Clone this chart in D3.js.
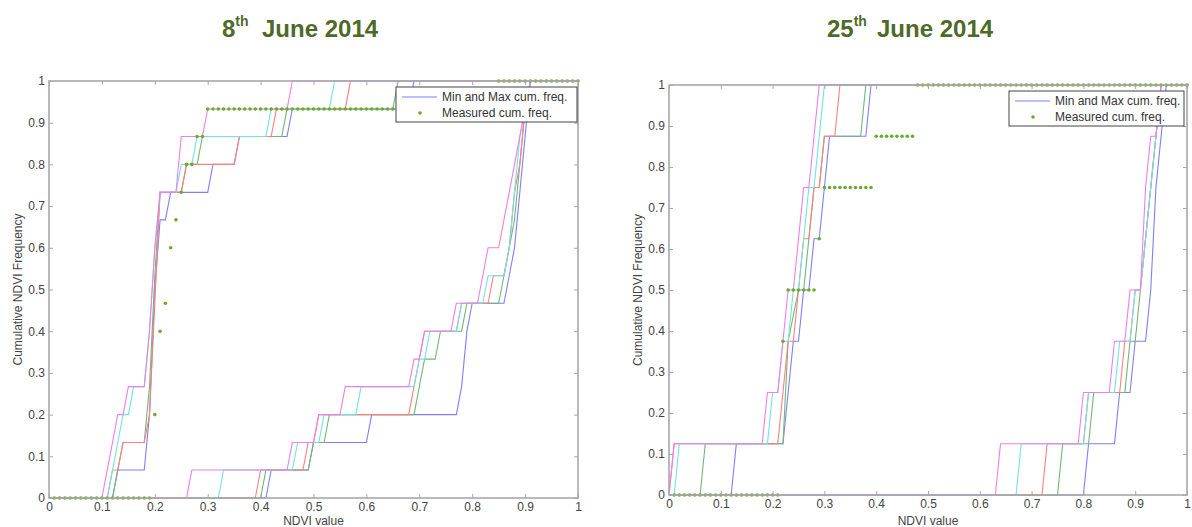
<!DOCTYPE html>
<html>
<head>
<meta charset="utf-8">
<script src="https://cdn.jsdelivr.net/npm/d3@7"></script>
<style>
  body { margin: 0; background: #fff; }
  svg text { font-family: "Liberation Sans", Arial, sans-serif; }
</style>
</head>
<body>
<svg id="chart" width="1192" height="527"></svg>
<script>
// tick values and labels (both axes)
const ticks = [0, 0.1, 0.2, 0.3, 0.4, 0.5, 0.6, 0.7, 0.8, 0.9, 1];
const tickLabels = ["0", "0.1", "0.2", "0.3", "0.4", "0.5", "0.6", "0.7", "0.8", "0.9", "1"];
const legendLabels = ["Min and Max cum. freq.", "Measured cum. freq."];

// measured cumulative frequency, NDVI sampled every 0.01 (0.01 .. 1.00)
const sampleX = d3.range(1, 101).map(k => k / 100);
const measured8 = [
  0, 0, 0, 0, 0, 0, 0, 0, 0, 0,
  0, 0, 0, 0, 0, 0, 0, 0, 0, 0.2,
  0.4, 0.467, 0.6, 0.667, 0.733, 0.8, 0.8, 0.867, 0.867, 0.933,
  0.933, 0.933, 0.933, 0.933, 0.933, 0.933, 0.933, 0.933, 0.933, 0.933,
  0.933, 0.933, 0.933, 0.933, 0.933, 0.933, 0.933, 0.933, 0.933, 0.933,
  0.933, 0.933, 0.933, 0.933, 0.933, 0.933, 0.933, 0.933, 0.933, 0.933,
  0.933, 0.933, 0.933, 0.933, 0.933, 0.933, 0.933, 0.933, 0.933, 0.933,
  0.933, 0.933, 0.933, 0.933, 0.933, 0.933, 0.933, 0.933, 0.933, 0.933,
  0.933, 0.933, 0.933, 0.933, 1, 1, 1, 1, 1, 1,
  1, 1, 1, 1, 1, 1, 1, 1, 1, 1
];
const measured25 = [
  0, 0, 0, 0, 0, 0, 0, 0, 0, 0,
  0, 0, 0, 0, 0, 0, 0, 0, 0, 0,
  0, 0.375, 0.5, 0.5, 0.5, 0.5, 0.5, 0.5, 0.625, 0.75,
  0.75, 0.75, 0.75, 0.75, 0.75, 0.75, 0.75, 0.75, 0.75, 0.875,
  0.875, 0.875, 0.875, 0.875, 0.875, 0.875, 0.875, 1, 1, 1,
  1, 1, 1, 1, 1, 1, 1, 1, 1, 1,
  1, 1, 1, 1, 1, 1, 1, 1, 1, 1,
  1, 1, 1, 1, 1, 1, 1, 1, 1, 1,
  1, 1, 1, 1, 1, 1, 1, 1, 1, 1,
  1, 1, 1, 1, 1, 1, 1, 1, 1, 1
];

// min / max cumulative curves, [NDVI, freq] vertices, order: blue, green, red, cyan, magenta
const june8Low = [
  [[0,0],[0.12,0],[0.13,0.067],[0.18,0.067],[0.19,0.2],[0.20,0.5],[0.21,0.667],[0.22,0.667],[0.23,0.733],[0.30,0.733],[0.31,0.8],[0.35,0.8],[0.36,0.867],[0.45,0.867],[0.46,0.933],[0.68,0.933],[0.69,1],[1,1]],
  [[0,0],[0.12,0],[0.13,0.067],[0.14,0.133],[0.18,0.133],[0.19,0.267],[0.20,0.533],[0.21,0.733],[0.25,0.733],[0.26,0.8],[0.28,0.8],[0.29,0.867],[0.44,0.867],[0.45,0.933],[0.65,0.933],[0.66,1],[1,1]],
  [[0,0],[0.11,0],[0.12,0.067],[0.13,0.067],[0.14,0.133],[0.18,0.133],[0.19,0.2],[0.20,0.467],[0.21,0.733],[0.25,0.733],[0.26,0.8],[0.35,0.8],[0.36,0.867],[0.42,0.867],[0.43,0.933],[0.56,0.933],[0.57,1],[1,1]],
  [[0,0],[0.11,0],[0.12,0.067],[0.13,0.133],[0.14,0.2],[0.15,0.2],[0.16,0.267],[0.18,0.267],[0.19,0.4],[0.20,0.6],[0.21,0.733],[0.24,0.733],[0.25,0.8],[0.27,0.8],[0.28,0.867],[0.41,0.867],[0.42,0.933],[0.53,0.933],[0.54,1],[1,1]],
  [[0,0],[0.10,0],[0.11,0.067],[0.12,0.133],[0.13,0.2],[0.14,0.2],[0.15,0.267],[0.18,0.267],[0.19,0.4],[0.20,0.6],[0.21,0.733],[0.24,0.733],[0.25,0.867],[0.29,0.867],[0.30,0.933],[0.45,0.933],[0.46,1],[1,1]]
];
const june8High = [
  [[0,0],[0.41,0],[0.42,0.067],[0.49,0.067],[0.50,0.133],[0.60,0.133],[0.61,0.2],[0.77,0.2],[0.78,0.267],[0.79,0.4],[0.80,0.467],[0.86,0.467],[0.87,0.533],[0.88,0.6],[0.89,0.733],[0.90,0.867],[0.91,1],[1,1]],
  [[0,0],[0.40,0],[0.41,0.067],[0.49,0.067],[0.50,0.133],[0.52,0.133],[0.53,0.2],[0.69,0.2],[0.70,0.267],[0.71,0.333],[0.73,0.333],[0.74,0.4],[0.78,0.4],[0.79,0.467],[0.85,0.467],[0.86,0.533],[0.87,0.6],[0.88,0.667],[0.89,0.8],[0.90,0.933],[0.91,1],[1,1]],
  [[0,0],[0.39,0],[0.40,0.067],[0.48,0.067],[0.49,0.133],[0.50,0.133],[0.51,0.2],[0.68,0.2],[0.69,0.267],[0.70,0.333],[0.71,0.4],[0.77,0.4],[0.78,0.467],[0.83,0.467],[0.84,0.533],[0.86,0.533],[0.87,0.6],[0.88,0.733],[0.89,0.8],[0.90,0.933],[0.91,1],[1,1]],
  [[0,0],[0.32,0],[0.33,0.067],[0.46,0.067],[0.47,0.133],[0.51,0.133],[0.52,0.2],[0.58,0.2],[0.59,0.267],[0.69,0.267],[0.70,0.333],[0.71,0.333],[0.72,0.4],[0.77,0.4],[0.78,0.467],[0.82,0.467],[0.83,0.533],[0.86,0.533],[0.87,0.6],[0.88,0.733],[0.89,0.867],[0.90,0.933],[0.91,1],[1,1]],
  [[0,0],[0.26,0],[0.27,0.067],[0.45,0.067],[0.46,0.133],[0.50,0.133],[0.51,0.2],[0.55,0.2],[0.56,0.267],[0.68,0.267],[0.69,0.333],[0.70,0.333],[0.71,0.4],[0.76,0.4],[0.77,0.467],[0.81,0.467],[0.82,0.533],[0.83,0.6],[0.85,0.6],[0.86,0.667],[0.87,0.733],[0.88,0.8],[0.89,0.867],[0.90,0.933],[0.91,1],[1,1]]
];
const june25Low = [
  [[0,0],[0.12,0],[0.13,0.125],[0.22,0.125],[0.23,0.25],[0.24,0.375],[0.25,0.375],[0.26,0.5],[0.27,0.5],[0.28,0.625],[0.29,0.625],[0.30,0.75],[0.31,0.875],[0.38,0.875],[0.39,1],[1,1]],
  [[0,0],[0.06,0],[0.07,0.125],[0.22,0.125],[0.23,0.375],[0.25,0.5],[0.26,0.5],[0.27,0.625],[0.28,0.75],[0.29,0.75],[0.30,0.875],[0.37,0.875],[0.38,1],[1,1]],
  [[0,0],[0.01,0.125],[0.21,0.125],[0.22,0.25],[0.23,0.375],[0.24,0.375],[0.25,0.5],[0.26,0.625],[0.27,0.625],[0.28,0.75],[0.29,0.75],[0.30,0.875],[0.32,0.875],[0.33,1],[1,1]],
  [[0,0],[0.01,0],[0.02,0.125],[0.19,0.125],[0.20,0.25],[0.21,0.25],[0.22,0.375],[0.23,0.375],[0.24,0.5],[0.25,0.5],[0.26,0.625],[0.27,0.75],[0.28,0.75],[0.29,0.875],[0.30,1],[1,1]],
  [[0,0],[0.01,0.125],[0.18,0.125],[0.19,0.25],[0.21,0.25],[0.22,0.375],[0.23,0.5],[0.24,0.5],[0.25,0.625],[0.26,0.75],[0.27,0.75],[0.28,0.875],[0.29,1],[1,1]]
];
const june25High = [
  [[0,0],[0.80,0],[0.81,0.125],[0.86,0.125],[0.87,0.25],[0.89,0.25],[0.90,0.375],[0.92,0.375],[0.93,0.5],[0.94,0.75],[0.95,0.875],[0.96,1],[1,1]],
  [[0,0],[0.75,0],[0.76,0.125],[0.81,0.125],[0.82,0.25],[0.88,0.25],[0.89,0.375],[0.90,0.375],[0.91,0.5],[0.92,0.625],[0.93,0.75],[0.94,0.875],[0.95,1],[1,1]],
  [[0,0],[0.72,0],[0.73,0.125],[0.80,0.125],[0.81,0.25],[0.87,0.25],[0.88,0.375],[0.89,0.375],[0.90,0.5],[0.91,0.5],[0.92,0.625],[0.93,0.75],[0.94,0.875],[0.95,1],[1,1]],
  [[0,0],[0.67,0],[0.68,0.125],[0.80,0.125],[0.81,0.25],[0.86,0.25],[0.87,0.375],[0.89,0.375],[0.90,0.5],[0.91,0.5],[0.92,0.625],[0.93,0.75],[0.94,0.875],[0.95,1],[1,1]],
  [[0,0],[0.63,0],[0.64,0.125],[0.79,0.125],[0.80,0.25],[0.85,0.25],[0.86,0.375],[0.88,0.375],[0.89,0.5],[0.91,0.5],[0.92,0.75],[0.93,0.875],[0.94,0.875],[0.95,1],[1,1]]
];

// line colours, matlab order b g r c m (lightened)
const curveColors = ["#7f7fff", "#70b870", "#ff7f7f", "#70e4e4", "#ee7eee"];
const dotColor = "#6aab2a";
const axisColor = "#a8a8a8";
const titleColor = "#4f6a28";

const panels = [
  { day: "8", left: 49, right: 578, top: 81, bottom: 498, dayX: 222, juneX: 262,
    low: june8Low, high: june8High, measured: measured8,
    legend: { x: 396, y: 87, w: 181, h: 35 } },
  { day: "25", left: 669, right: 1187, top: 85, bottom: 495, dayX: 827, juneX: 877,
    low: june25Low, high: june25High, measured: measured25,
    legend: { x: 1009, y: 91, w: 175, h: 35 } }
];

const svg = d3.select("#chart");

function drawPanel(p) {
  const x = d3.scaleLinear().domain([0, 1]).range([p.left, p.right]);
  const y = d3.scaleLinear().domain([0, 1]).range([p.bottom, p.top]);
  const g = svg.append("g");

  // titolo
  const title = g.append("text")
    .attr("fill", titleColor)
    .attr("font-weight", "bold");
  title.append("tspan").attr("x", p.dayX).attr("y", 37).attr("font-size", 24).text(p.day);
  title.append("tspan").attr("y", 26).attr("font-size", 14).text("th");
  title.append("tspan").attr("x", p.juneX).attr("y", 37).attr("font-size", 24).text("June 2014");

  // curve min / max
  const line = d3.line().x(d => x(d[0])).y(d => y(d[1]));
  [p.low, p.high].forEach(bundle => {
    g.append("g")
      .selectAll("path")
      .data(bundle)
      .join("path")
      .attr("d", line)
      .attr("fill", "none")
      .attr("stroke", (d, i) => curveColors[i])
      .attr("stroke-width", 1.1);
  });

  // punti misurati
  g.append("g")
    .selectAll("circle")
    .data(p.measured)
    .join("circle")
    .attr("cx", (d, i) => x(sampleX[i]))
    .attr("cy", d => y(d))
    .attr("r", 1.8)
    .attr("fill", dotColor);

  // assi (ticks inside, matlab style)
  const fmt = (d, i) => tickLabels[i];
  const styleAxis = sel => {
    sel.select(".domain").remove();
    sel.selectAll(".tick line").attr("stroke", axisColor);
    sel.selectAll(".tick text").attr("fill", "#444").attr("font-size", 12)
      .attr("font-family", "'Liberation Sans', Arial, sans-serif");
  };
  g.append("g").attr("transform", `translate(0,${p.bottom})`)
    .call(d3.axisBottom(x).tickValues(ticks).tickFormat(fmt).tickSizeInner(-4).tickSizeOuter(0).tickPadding(4))
    .call(styleAxis);
  g.append("g").attr("transform", `translate(${p.left},0)`)
    .call(d3.axisLeft(y).tickValues(ticks).tickFormat(fmt).tickSizeInner(-4).tickSizeOuter(0).tickPadding(4))
    .call(styleAxis);
  g.append("g").attr("transform", `translate(0,${p.top})`)
    .call(d3.axisTop(x).tickValues(ticks).tickFormat("").tickSizeInner(-4).tickSizeOuter(0))
    .call(styleAxis);
  g.append("g").attr("transform", `translate(${p.right},0)`)
    .call(d3.axisRight(y).tickValues(ticks).tickFormat("").tickSizeInner(-4).tickSizeOuter(0))
    .call(styleAxis);

  g.append("rect")
    .attr("x", p.left).attr("y", p.top)
    .attr("width", p.right - p.left).attr("height", p.bottom - p.top)
    .attr("fill", "none").attr("stroke", axisColor).attr("stroke-width", 1.6);

  // etichette assi
  g.append("text")
    .attr("x", (p.left + p.right) / 2).attr("y", 524.5)
    .attr("text-anchor", "middle").attr("font-size", 12).attr("fill", "#444")
    .text("NDVI value");
  g.append("text")
    .attr("transform", `translate(${p.left - 27},${(p.top + p.bottom) / 2}) rotate(-90)`)
    .attr("text-anchor", "middle").attr("font-size", 12).attr("fill", "#444")
    .text("Cumulative NDVI Frequency");

  // legenda
  const L = p.legend;
  const lg = g.append("g").attr("transform", `translate(${L.x},${L.y})`);
  lg.append("rect").attr("width", L.w).attr("height", L.h)
    .attr("fill", "#fff").attr("stroke", "#444").attr("stroke-width", 1);
  lg.append("line").attr("x1", 6).attr("x2", 41).attr("y1", 10).attr("y2", 10)
    .attr("stroke", curveColors[0]).attr("stroke-width", 1.1);
  lg.append("circle").attr("cx", 24).attr("cy", 26).attr("r", 1.8).attr("fill", dotColor);
  lg.selectAll("text.lab")
    .data(legendLabels)
    .join("text")
    .attr("class", "lab")
    .attr("x", 46).attr("y", (d, i) => 14.3 + i * 16)
    .attr("font-size", 12).attr("fill", "#333")
    .text(d => d);
}

panels.forEach(drawPanel);
</script>
</body>
</html>
